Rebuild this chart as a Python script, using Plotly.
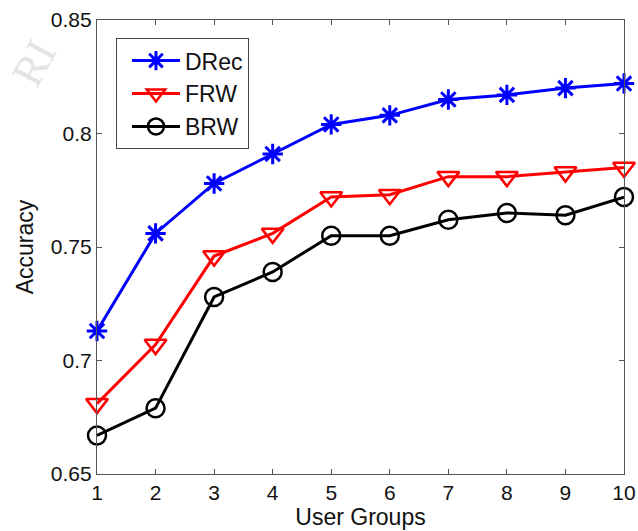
import plotly.graph_objects as go

groups = [1, 2, 3, 4, 5, 6, 7, 8, 9, 10]
drec = [0.713, 0.756, 0.778, 0.791, 0.804, 0.808, 0.815, 0.817, 0.820, 0.822]
frw = [0.681, 0.707, 0.746, 0.756, 0.772, 0.773, 0.781, 0.781, 0.783, 0.785]
brw = [0.667, 0.679, 0.728, 0.739, 0.755, 0.755, 0.762, 0.765, 0.764, 0.772]
y_ticks = [0.65, 0.7, 0.75, 0.8, 0.85]
y_labels = ["0.65", "0.7", "0.75", "0.8", "0.85"]

FONT = "Liberation Sans, Arial, Helvetica, sans-serif"

fig = go.Figure()
fig.add_trace(go.Scatter(
    x=groups, y=drec, name="DRec", mode="lines+markers", cliponaxis=False,
    line=dict(color="#0000ff", width=3),
    marker=dict(symbol="asterisk", size=17, color="#0000ff",
                line=dict(color="#0000ff", width=3)),
))
fig.add_trace(go.Scatter(
    x=groups, y=frw, name="FRW", mode="lines+markers", cliponaxis=False,
    line=dict(color="#ff0000", width=3),
    marker=dict(symbol="triangle-down-open", size=19, color="#ff0000",
                line=dict(color="#ff0000", width=2.5)),
))
fig.add_trace(go.Scatter(
    x=groups, y=brw, name="BRW", mode="lines+markers", cliponaxis=False,
    line=dict(color="#000000", width=3),
    marker=dict(symbol="circle-open", size=18, color="#000000",
                line=dict(color="#000000", width=2.5)),
))

axis_common = dict(
    showline=True, linecolor="#555555", linewidth=1.2, mirror="ticks",
    ticks="inside", ticklen=5, tickcolor="#555555", tickwidth=1,
    showgrid=False, zeroline=False, automargin=False,
    tickfont=dict(family=FONT, size=21, color="#111111"),
)

# faint diagonal watermark fragment in the top-left margin
fig.add_annotation(
    text="RI", xref="paper", yref="paper", x=-0.12, y=0.905,
    xanchor="center", yanchor="middle",
    showarrow=False, textangle=-62,
    font=dict(family="Liberation Serif, Times New Roman, serif", size=44,
              color="#e4e4e4"),
)

fig.update_layout(
    width=638, height=531,
    margin=dict(l=97, r=14, t=20, b=57),
    paper_bgcolor="white", plot_bgcolor="white",
    font=dict(family=FONT, size=21, color="#111111"),
    xaxis=dict(range=[1, 10], tickvals=groups,
               title=dict(text="User Groups", standoff=4,
                          font=dict(family=FONT, size=23)),
               **axis_common),
    yaxis=dict(range=[0.65, 0.85], tickvals=y_ticks, ticktext=y_labels,
               title=dict(text="Accuracy", standoff=10,
                          font=dict(family=FONT, size=23)),
               **axis_common),
    legend=dict(x=0.036, y=0.96, xanchor="left", yanchor="top",
                bgcolor="white", bordercolor="#444444", borderwidth=1,
                font=dict(family=FONT, size=23, color="#111111"),
                tracegroupgap=0, itemwidth=48, indentation=10),
    showlegend=True,
)

fig.write_html("out.html")
